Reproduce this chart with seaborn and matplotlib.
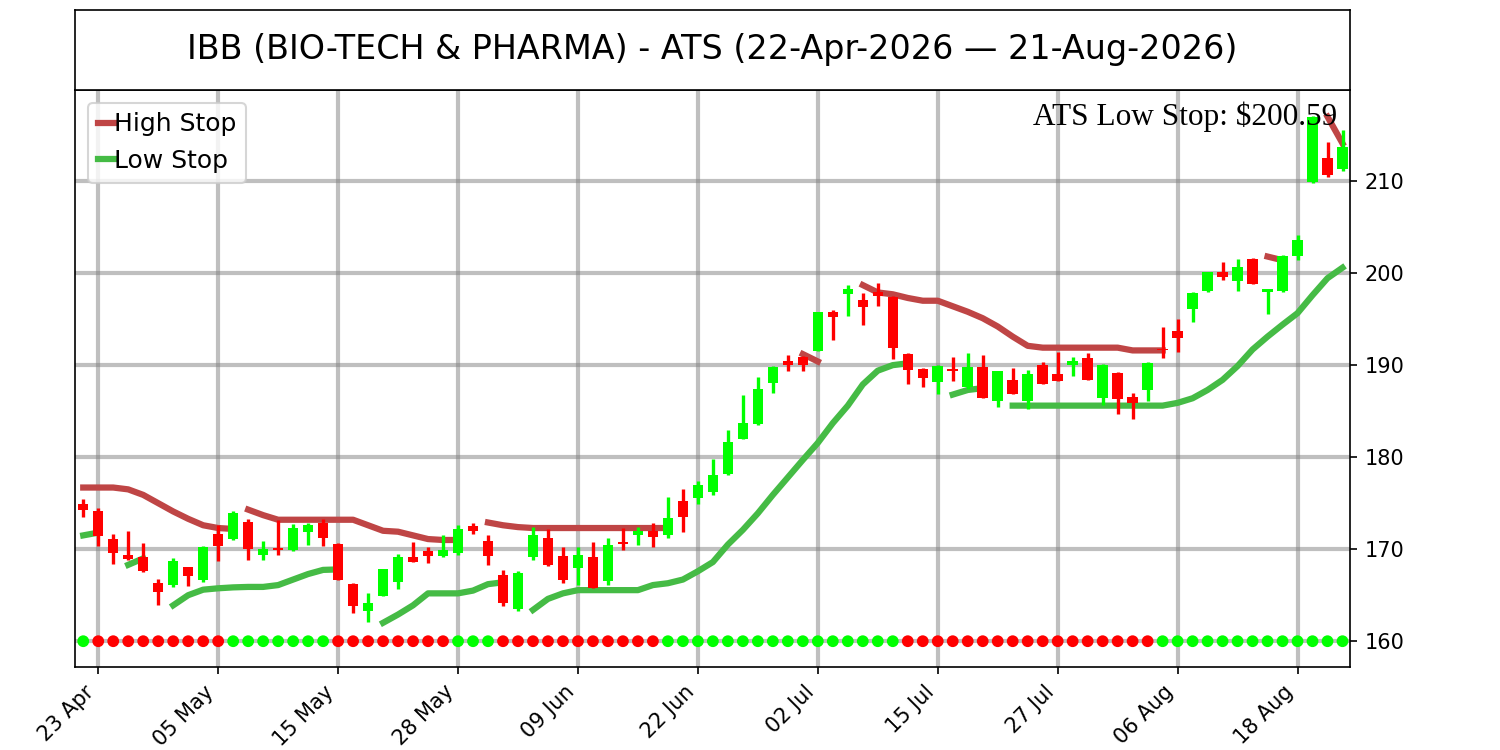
import numpy as np
import pandas as pd
import matplotlib
matplotlib.use("Agg")
from matplotlib import pyplot as plt
from matplotlib.lines import Line2D
import seaborn as sns

# ATS candlestick chart for IBB, 22-Apr-2026 to 21-Aug-2026
title = "IBB (BIO-TECH & PHARMA) - ATS (22-Apr-2026 \u2014 21-Aug-2026)"
dates = pd.bdate_range("2026-04-22", "2026-08-21", freq="C",
                       holidays=["2026-05-25", "2026-06-19", "2026-07-03"])

opens = [174.9, 174.2, 171.1, 169.4, 169.2, 166.3, 166.1, 168.1, 166.6, 171.6,
         171.1, 173.0, 169.4, 170.1, 169.9, 171.9, 172.9, 170.6, 166.2, 163.3,
         164.9, 166.4, 169.1, 169.8, 169.3, 169.6, 172.5, 170.9, 167.2, 163.5,
         169.2, 171.2, 169.3, 168.0, 169.2, 166.5, 170.8, 171.5, 172.0, 171.5,
         175.2, 175.6, 176.2, 178.2, 182.0, 183.6, 188.1, 190.5, 190.9, 191.5,
         195.8, 197.7, 197.1, 197.9, 197.4, 191.2, 189.6, 188.2, 189.6, 187.6,
         189.8, 186.1, 188.4, 186.1, 190.0, 189.0, 190.0, 190.8, 186.4, 189.2,
         186.5, 187.3, 191.8, 193.7, 196.1, 198.1, 200.1, 199.1, 201.5, 198.0,
         198.1, 201.9, 209.9, 212.5, 211.3]
highs = [175.4, 174.5, 171.6, 172.0, 170.7, 166.8, 169.0, 168.1, 170.3, 172.6,
         174.1, 173.3, 170.9, 173.2, 172.7, 172.9, 173.3, 170.7, 166.3, 165.2,
         167.9, 169.5, 170.8, 170.2, 171.5, 172.6, 172.9, 171.5, 167.7, 167.6,
         172.4, 172.2, 170.2, 170.2, 170.8, 171.2, 172.3, 172.4, 172.8, 175.7,
         176.5, 177.4, 179.8, 183.0, 186.8, 188.7, 189.9, 191.1, 191.0, 195.8,
         196.0, 198.7, 197.8, 198.9, 197.5, 191.3, 189.7, 190.0, 190.9, 191.3,
         191.1, 189.4, 189.7, 189.5, 190.3, 191.4, 190.9, 191.3, 190.1, 189.3,
         187.0, 190.3, 194.1, 195.0, 197.9, 200.1, 201.2, 201.5, 201.6, 198.3,
         202.0, 204.1, 217.1, 214.3, 215.6]
lows = [173.5, 170.4, 168.4, 168.8, 167.5, 163.9, 165.9, 166.0, 166.4, 168.7,
        171.0, 168.8, 168.8, 169.4, 169.8, 170.5, 170.3, 166.6, 163.1, 162.1,
        164.9, 165.7, 168.6, 168.5, 169.1, 169.4, 171.6, 168.3, 163.8, 163.3,
        168.8, 168.2, 166.3, 166.1, 165.8, 166.1, 169.9, 170.5, 170.2, 171.2,
        171.9, 174.9, 175.9, 178.1, 182.0, 183.5, 187.0, 189.4, 189.4, 191.5,
        192.7, 195.3, 194.4, 196.4, 190.7, 187.9, 187.6, 186.9, 188.3, 187.4,
        186.4, 185.5, 186.9, 185.2, 187.9, 188.3, 188.8, 188.4, 185.7, 184.7,
        184.2, 186.1, 190.8, 191.4, 194.7, 198.0, 199.2, 198.1, 198.8, 195.6,
        198.0, 201.4, 209.8, 210.4, 211.1]
closes = [174.3, 171.4, 169.6, 168.9, 167.6, 165.3, 168.7, 167.1, 170.2, 170.3,
          173.9, 170.0, 170.0, 169.9, 172.3, 172.6, 171.2, 166.7, 163.8, 164.2,
          167.9, 169.1, 168.6, 169.3, 169.9, 172.2, 172.0, 169.3, 164.1, 167.4,
          171.5, 168.3, 166.7, 169.4, 165.8, 170.5, 170.6, 172.0, 171.3, 173.4,
          173.5, 177.0, 178.1, 181.6, 183.7, 187.4, 189.8, 190.0, 190.0, 195.8,
          195.2, 198.3, 196.3, 197.5, 191.9, 189.5, 188.6, 189.9, 189.4, 189.8,
          186.4, 189.4, 186.9, 189.0, 188.0, 188.3, 190.5, 188.4, 190.0, 186.3,
          185.9, 190.2, 191.6, 192.9, 197.8, 200.1, 199.6, 200.7, 198.8, 198.3,
          201.9, 203.6, 217.0, 210.7, 213.7]

# stop lines: (first bar index, values) for each visible run
high_stop = [
    (0, [176.7, 176.7, 176.7, 176.5, 175.9, 175.0, 174.1, 173.3, 172.6, 172.3, 172.2]),
    (11, [174.3, 173.7, 173.2, 173.2, 173.2, 173.2, 173.2, 173.2, 172.6, 172.0,
          171.9, 171.5, 171.1, 171.0, 171.0]),
    (27, [172.9, 172.6, 172.4, 172.3, 172.3, 172.3, 172.3, 172.3, 172.3, 172.3,
          172.3, 172.3, 172.3]),
    (48, [191.2, 190.4]),
    (52, [198.7, 197.9, 197.7, 197.3, 197.0, 197.0, 196.4, 195.8, 195.1, 194.2,
          193.1, 192.1, 191.9, 191.9, 191.9, 191.9, 191.9, 191.9, 191.6, 191.6, 191.6]),
    (79, [201.8, 201.4]),
    (83, [217.0, 214.1]),
]
low_stop = [
    (0, [171.5, 171.8]),
    (3, [168.3, 169.0]),
    (6, [163.9, 165.0, 165.6, 165.75, 165.85, 165.9, 165.9, 166.1, 166.7, 167.3,
         167.75, 167.8]),
    (20, [162.0, 162.9, 163.9, 165.2, 165.2, 165.2, 165.5, 166.2, 166.4]),
    (30, [163.4, 164.6, 165.2, 165.55, 165.55, 165.55, 165.55, 165.55, 166.1, 166.3,
          166.7, 167.6, 168.6, 170.5, 172.1, 173.9, 175.9, 177.8, 179.7, 181.55,
          183.7, 185.6, 187.9, 189.4, 190.0, 190.2]),
    (58, [186.8, 187.3, 187.5]),
    (62, [185.6, 185.6, 185.6, 185.6, 185.6, 185.6, 185.6, 185.6, 185.6, 185.6,
          185.6, 185.9, 186.4, 187.3, 188.4, 189.9, 191.7, 193.1, 194.4, 195.65,
          197.6, 199.45, 200.59]),
]
# trend dots along the bottom: G = up, R = down
trend = "GRRRRRRRRRGGGGGGGRRRRRRRRGGGRRRRRRRRRRRGGGGGGGGGGGGGGGGRRRRRRRRRRRRRRRRRGGGGGGGGGGGGG"
dot_level = 160

up_col, down_col = "#00ff00", "#ff0000"
high_col, low_col = "#bf4545", "#45bb45"

df = pd.DataFrame({"date": dates, "open": opens, "high": highs, "low": lows, "close": closes})
df["i"] = np.arange(len(df))
df["trend"] = list(trend)
df["dot"] = dot_level

fig = plt.figure(figsize=(10, 5), dpi=150)
ax = fig.add_axes([0.05, 0.1107, 0.85, 0.7693])
tax = fig.add_axes([0.05, 0.88, 0.85, 0.1067])
tax.set_xticks([])
tax.set_yticks([])
tax.text(0.5, 0.5, title, ha="center", va="center", fontsize=16, transform=tax.transAxes)

ax.set_axisbelow(True)
ax.grid(True, color="gray", alpha=0.5, linewidth=2)

for start, vals in high_stop:
    sns.lineplot(x=np.arange(start, start + len(vals)), y=vals, ax=ax,
                 color=high_col, linewidth=3, zorder=2)
for start, vals in low_stop:
    sns.lineplot(x=np.arange(start, start + len(vals)), y=vals, ax=ax,
                 color=low_col, linewidth=3, zorder=2)

# candles
colors = np.where(df["close"] >= df["open"], up_col, down_col)
ax.vlines(df["i"], df["low"], df["high"], colors=colors, linewidth=1.6, zorder=3)
ax.bar(df["i"], df["close"] - df["open"], bottom=df["open"], width=0.7,
       color=colors, zorder=3)

sns.scatterplot(data=df, x="i", y="dot", hue="trend",
                palette={"G": up_col, "R": down_col}, s=32, linewidth=0,
                legend=False, ax=ax, zorder=4)

ax.text(0.99, 0.98, f"ATS Low Stop: ${low_stop[-1][1][-1]:.2f}", transform=ax.transAxes,
        ha="right", va="top", fontsize=15, family=["Liberation Serif", "DejaVu Serif"])

ax.set_xlim(-0.55, 84.5)
ax.set_ylim(157.2, 219.9)
ax.yaxis.tick_right()
ax.set_yticks([160, 170, 180, 190, 200, 210])
tick_idx = list(range(1, len(df), 8))
ax.set_xticks(tick_idx)
ax.set_xticklabels([df["date"][k].strftime("%d %b") for k in tick_idx], rotation=45, ha="right")
ax.set_xlabel("")
ax.set_ylabel("")

handles = [Line2D([], [], color=high_col, linewidth=3),
           Line2D([], [], color=low_col, linewidth=3)]
ax.legend(handles, ["High Stop", "Low Stop"], loc="upper left", fontsize=12,
          handlelength=0.65, handletextpad=0.0)

fig.savefig("out.png")
